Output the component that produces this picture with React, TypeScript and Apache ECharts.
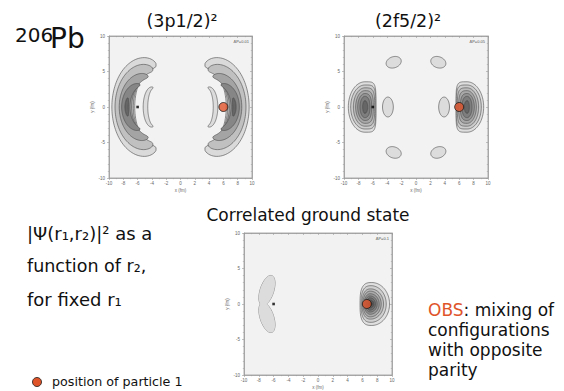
import React, { useEffect, useRef } from "react";
import * as echarts from "echarts";

// ---------- data (fm) ----------
// Plot 1, (3p1/2)^2 : crescent contours on the left side (mirrored on the right)
// [midlineCentreX, midlineSemiAxisX, midlineSemiAxisY, angularHalfSpanDeg, halfThickness]
const p1Crescents = [
  [-4.5, 3.5, 6.0, 108, 1.6],
  [-4.58, 3.3, 5.3, 103, 1.28],
  [-4.9, 2.8, 4.3, 98, 0.87],
  [-5.65, 2.0, 3.1, 90, 0.58],
  [-2.53, 5.0, 5.0, 15, 0.25],
];
const p1SmallCrescent = [-3.9, 1.0, 2.7, 95, 0.32];

// Plot 2, (2f5/2)^2 : lobes on the left side (mirrored); [cx, rxRound, rxFlat, ry, power]
const p2Lobes = [
  [-7.1, 2.3, 1.54, 3.55, 5],
  [-7.1, 1.97, 1.5, 3.1, 4.4],
  [-7.1, 1.6, 1.36, 2.7, 3.8],
  [-7.1, 1.28, 1.17, 2.3, 3.2],
  [-7.1, 1.0, 0.94, 1.9, 2.7],
  [-7.1, 0.68, 0.71, 1.5, 2.3],
  [-7.1, 0.31, 0.39, 0.9, 2],
];
// small islands; [cx, cy, rx, ry, angleDeg]
const p2Islands = [
  [-3.1, 6.3, 1.08, 0.78, 20],
  [3.1, 6.3, 1.08, 0.78, -20],
  [-3.9, 0, 0.75, 1.4, 0],
  [3.9, 0, 0.75, 1.4, 0],
  [-3.1, -6.4, 1.08, 0.78, -20],
  [3.1, -6.4, 1.08, 0.78, 20],
];

// Plot 3, correlated ground state: lobe on the right; [cx, rxFlat(left), rxRound(right), ry, power]
const p3Lobes = [
  [7.28, 1.6, 2.39, 3.02, 3],
  [7.18, 1.36, 2.04, 2.58, 2.7],
  [7.11, 1.16, 1.75, 2.13, 2.4],
  [7.07, 0.98, 1.47, 1.81, 2.2],
  [7.05, 0.82, 1.22, 1.45, 2],
  [7.02, 0.66, 0.98, 1.14, 2],
  [7.03, 0.49, 0.74, 0.87, 2],
  [7.05, 0.32, 0.49, 0.56, 2],
  [7.07, 0.16, 0.25, 0.29, 2],
];
// two-lobed island on the left; [cx, cy, rx, ry, angleDeg]
const p3Peanut = [
  [-6.9, 1.9, 0.92, 2.2, -17],
  [-6.9, -1.9, 0.92, 2.2, 17],
];

const particle1 = [
  [6.0, 0],
  [6.0, 0],
  [6.6, 0],
];
const mirrorPoint = [-6, 0];
const deltaP = ["ΔP=0.01", "ΔP=0.05", "ΔP=0.1"];

// ---------- styles ----------
const p1Colors = ["#dadada", "#c0c0c0", "#a4a4a4", "#868686", "#666666"];
const p2Colors = ["#dedede", "#cdcdcd", "#bbbbbb", "#a8a8a8", "#939393", "#7e7e7e", "#666666"];
const p3Colors = ["#e0e0e0", "#cfcfcf", "#bdbdbd", "#aaaaaa", "#969696", "#828282", "#6e6e6e", "#5a5a5a", "#474747"];
const islandColor = "#dcdcdc";
const edge = "#4a4a4a";
const FONT = "DejaVu Sans";
const RED = "#e0542a";

const grids = [
  { left: 109, top: 36, width: 143, height: 142 },
  { left: 344, top: 36, width: 144, height: 142 },
  { left: 244, top: 233, width: 148, height: 149 },
];

// ---------- shape helpers (data space) ----------
function bandPts(xc: number, a: number, b: number, phiDeg: number, W: number, dir: number) {
  const n = 80;
  const phi = (phiDeg * Math.PI) / 180;
  const outer: number[][] = [];
  const inner: number[][] = [];
  for (let i = 0; i <= n; i++) {
    const al = -phi + (2 * phi * i) / n;
    const u = al / phi;
    const w = W * Math.sqrt(Math.max(0, 1 - u * u));
    const mx = xc + dir * a * Math.cos(al);
    const my = b * Math.sin(al);
    let nx = (dir * Math.cos(al)) / a;
    let ny = Math.sin(al) / b;
    const nl = Math.hypot(nx, ny) || 1;
    nx /= nl;
    ny /= nl;
    outer.push([mx + w * nx, my + w * ny]);
    inner.push([mx - w * nx, my - w * ny]);
  }
  return outer.concat(inner.reverse());
}
function lobePts(cx: number, cy: number, rxRound: number, rxFlat: number, ry: number, p: number, dir: number) {
  const n = 100;
  const pts: number[][] = [];
  for (let i = 0; i < n; i++) {
    const t = (2 * Math.PI * i) / n;
    const c = Math.cos(t);
    const s = Math.sin(t);
    if (c * dir >= 0) {
      pts.push([cx + rxRound * c, cy + ry * s]);
    } else {
      const e = 2 / p;
      pts.push([cx + rxFlat * Math.sign(c) * Math.pow(Math.abs(c), e), cy + ry * Math.sign(s) * Math.pow(Math.abs(s), e)]);
    }
  }
  return pts;
}
function ellipsePts(cx: number, cy: number, rx: number, ry: number, ang: number) {
  const n = 60;
  const a = (ang * Math.PI) / 180;
  const pts: number[][] = [];
  for (let i = 0; i < n; i++) {
    const t = (2 * Math.PI * i) / n;
    const x = rx * Math.cos(t);
    const y = ry * Math.sin(t);
    pts.push([cx + x * Math.cos(a) - y * Math.sin(a), cy + x * Math.sin(a) + y * Math.cos(a)]);
  }
  return pts;
}

// items: [anchorX, anchorY, kind, ...params]
function shapeSeries(gi: number, items: number[][], colors: string[], mode = "both") {
  return {
    type: "custom",
    xAxisIndex: gi * 2,
    yAxisIndex: gi * 2,
    clip: true,
    silent: true,
    encode: { x: 0, y: 1 },
    data: items,
    renderItem: (params: any, api: any) => {
      const v = items[params.dataIndex];
      let pts: number[][] = [];
      if (v[2] === 0) pts = bandPts(v[3], v[4], v[5], v[6], v[7], v[8]);
      else if (v[2] === 1) pts = lobePts(v[3], v[4], v[5], v[6], v[7], v[8], v[9]);
      else pts = ellipsePts(v[3], v[4], v[5], v[6], v[7]);
      const px = pts.map((p) => api.coord(p));
      return {
        type: "polygon",
        shape: { points: px },
        style: {
          fill: mode === "stroke" ? "none" : colors[params.dataIndex % colors.length],
          stroke: mode === "fill" ? "none" : edge,
          lineWidth: 0.6,
        },
      };
    },
  };
}

function measure(text: string, size: number) {
  try {
    const ctx = document.createElement("canvas").getContext("2d");
    if (ctx) {
      ctx.font = `${size}px "${FONT}"`;
      return ctx.measureText(text).width;
    }
  } catch (e) {
    /* ignore */
  }
  return text.length * size * 0.68;
}

function buildOption() {
  const xAxes: any[] = [];
  const yAxes: any[] = [];
  const lineC = "#9a9a9a";
  const labelStyle = { fontSize: 4.5, color: "#666", fontFamily: "Liberation Sans" };
  grids.forEach((_, g) => {
    const common = {
      type: "value", gridIndex: g, min: -10, max: 10,
      axisLine: { show: true, onZero: false, lineStyle: { color: lineC, width: 0.8 } },
      splitLine: { show: false },
    };
    xAxes.push({
      ...common, interval: 2, position: "bottom",
      axisTick: { show: true, length: 2, lineStyle: { color: lineC, width: 0.6 } },
      minorTick: { show: true, splitNumber: 2, length: 1.2, lineStyle: { color: lineC, width: 0.5 } },
      axisLabel: { ...labelStyle, margin: 3 },
      name: "x (fm)", nameLocation: "middle", nameGap: 10, nameTextStyle: labelStyle,
    });
    xAxes.push({
      ...common, interval: 2, position: "top",
      axisTick: { show: true, inside: true, length: 2, lineStyle: { color: lineC, width: 0.6 } },
      minorTick: { show: true, splitNumber: 2, length: 1.2, lineStyle: { color: lineC, width: 0.5 } },
      axisLabel: { show: false },
    });
    yAxes.push({
      ...common, interval: 5, position: "left",
      axisTick: { show: true, length: 2, lineStyle: { color: lineC, width: 0.6 } },
      minorTick: { show: true, splitNumber: 5, length: 1.2, lineStyle: { color: lineC, width: 0.5 } },
      axisLabel: { ...labelStyle, margin: 4 },
      name: "y (fm)", nameLocation: "middle", nameGap: 12, nameRotate: 90, nameTextStyle: labelStyle,
    });
    yAxes.push({
      ...common, interval: 5, position: "right",
      axisTick: { show: true, inside: true, length: 2, lineStyle: { color: lineC, width: 0.6 } },
      minorTick: { show: true, splitNumber: 5, length: 1.2, lineStyle: { color: lineC, width: 0.5 } },
      axisLabel: { show: false },
    });
  });

  // plot 1
  const p1Items: number[][] = [];
  const p1Cols: string[] = [];
  [-1, 1].forEach((dir) => {
    p1Crescents.forEach((c, i) => {
      const xc = dir < 0 ? c[0] : -c[0];
      p1Items.push([xc + dir * c[1], 0, 0, xc, c[1], c[2], c[3], c[4], dir]);
      p1Cols.push(p1Colors[i]);
    });
    const s = p1SmallCrescent;
    const sx = dir < 0 ? s[0] : -s[0];
    p1Items.push([sx + dir * s[1], 0, 0, sx, s[1], s[2], s[3], s[4], dir]);
    p1Cols.push(islandColor);
  });

  // plot 2
  const p2Items: number[][] = [];
  const p2Cols: string[] = [];
  [-1, 1].forEach((dir) => {
    p2Lobes.forEach((l, i) => {
      const cx = dir < 0 ? l[0] : -l[0];
      p2Items.push([cx, 0, 1, cx, 0, l[1], l[2], l[3], l[4], dir]);
      p2Cols.push(p2Colors[i]);
    });
  });
  p2Islands.forEach((e) => {
    p2Items.push([e[0], e[1], 2, e[0], e[1], e[2], e[3], e[4]]);
    p2Cols.push(islandColor);
  });

  // plot 3
  const p3Items: number[][] = p3Lobes.map((l) => [l[0], 0, 1, l[0], 0, l[2], l[1], l[3], l[4], 1]);
  const peanutItems = p3Peanut.map((e) => [e[0], e[1], 2, e[0], e[1], e[2], e[3], e[4]]);

  const series: any[] = [
    shapeSeries(0, p1Items, p1Cols),
    shapeSeries(1, p2Items, p2Cols),
    shapeSeries(2, p3Items, p3Colors),
    shapeSeries(2, peanutItems, [islandColor, islandColor], "stroke"),
    shapeSeries(2, peanutItems, [islandColor, islandColor], "fill"),
  ];
  grids.forEach((_, g) => {
    series.push({
      type: "scatter", xAxisIndex: g * 2, yAxisIndex: g * 2, silent: true, z: 5,
      symbol: "rect", symbolSize: 2.6, itemStyle: { color: "#000" },
      data: [mirrorPoint],
    });
    series.push({
      type: "scatter", xAxisIndex: g * 2, yAxisIndex: g * 2, silent: true, z: 6,
      symbol: "circle", symbolSize: 9,
      itemStyle: { color: RED, borderColor: "#1a1a1a", borderWidth: 1 },
      data: [particle1[g]],
    });
  });

  const txt = (x: number, y: number, text: string, fontSize: number, extra: any = {}) => ({
    type: "text", x, y, silent: true, z: 20,
    style: { text, fontSize, fontFamily: FONT, fill: "#111", verticalAlign: "middle", ...extra },
  });

  const obsW = measure("OBS", 17);
  const graphic: any[] = [
    txt(15, 35, "206", 20),
    txt(50, 38.5, "Pb", 28),
    txt(182, 21, "(3p1/2)²", 17.5, { align: "center" }),
    txt(408, 21, "(2f5/2)²", 17.5, { align: "center" }),
    txt(308, 215, "Correlated ground state", 17, { align: "center" }),
    txt(27, 233, "|Ψ(r₁,r₂)|² as a", 18),
    txt(27, 266, "function of r₂,", 17.5),
    txt(27, 299, "for fixed r₁", 18),
    txt(52, 381, "position of particle 1", 12.7),
    txt(428, 310, "OBS", 17, { fill: RED }),
    txt(428 + obsW, 310, ": mixing of", 17),
    txt(428, 330, "configurations", 17),
    txt(428, 350, "with opposite", 17),
    txt(428, 370, "parity", 17),
    {
      type: "circle", silent: true, z: 20, shape: { cx: 37, cy: 382, r: 4.5 },
      style: { fill: RED, stroke: "#1a1a1a", lineWidth: 0.8 },
    },
  ];
  grids.forEach((gr, g) => {
    graphic.push({
      type: "text", x: gr.left + gr.width - 3, y: gr.top + 5, silent: true, z: 20,
      style: { text: deltaP[g], fontSize: 4, fontFamily: "Liberation Sans", fill: "#555", align: "right", verticalAlign: "middle" },
    });
  });

  return {
    animation: false,
    backgroundColor: "#ffffff",
    grid: grids.map((gr) => ({
      ...gr, show: true, backgroundColor: "#f2f2f2", borderColor: lineC, borderWidth: 0.8,
    })),
    xAxis: xAxes,
    yAxis: yAxes,
    series,
    graphic,
  };
}

export default function App() {
  const ref = useRef<HTMLDivElement>(null);
  useEffect(() => {
    if (!ref.current) return;
    const chart = echarts.init(ref.current, undefined, { renderer: "svg" });
    chart.setOption(buildOption() as any);
    return () => chart.dispose();
  }, []);
  return (
    <div
      ref={ref}
      style={{ position: "absolute", left: 0, top: 0, width: 564, height: 391, background: "#fff" }}
    />
  );
}
